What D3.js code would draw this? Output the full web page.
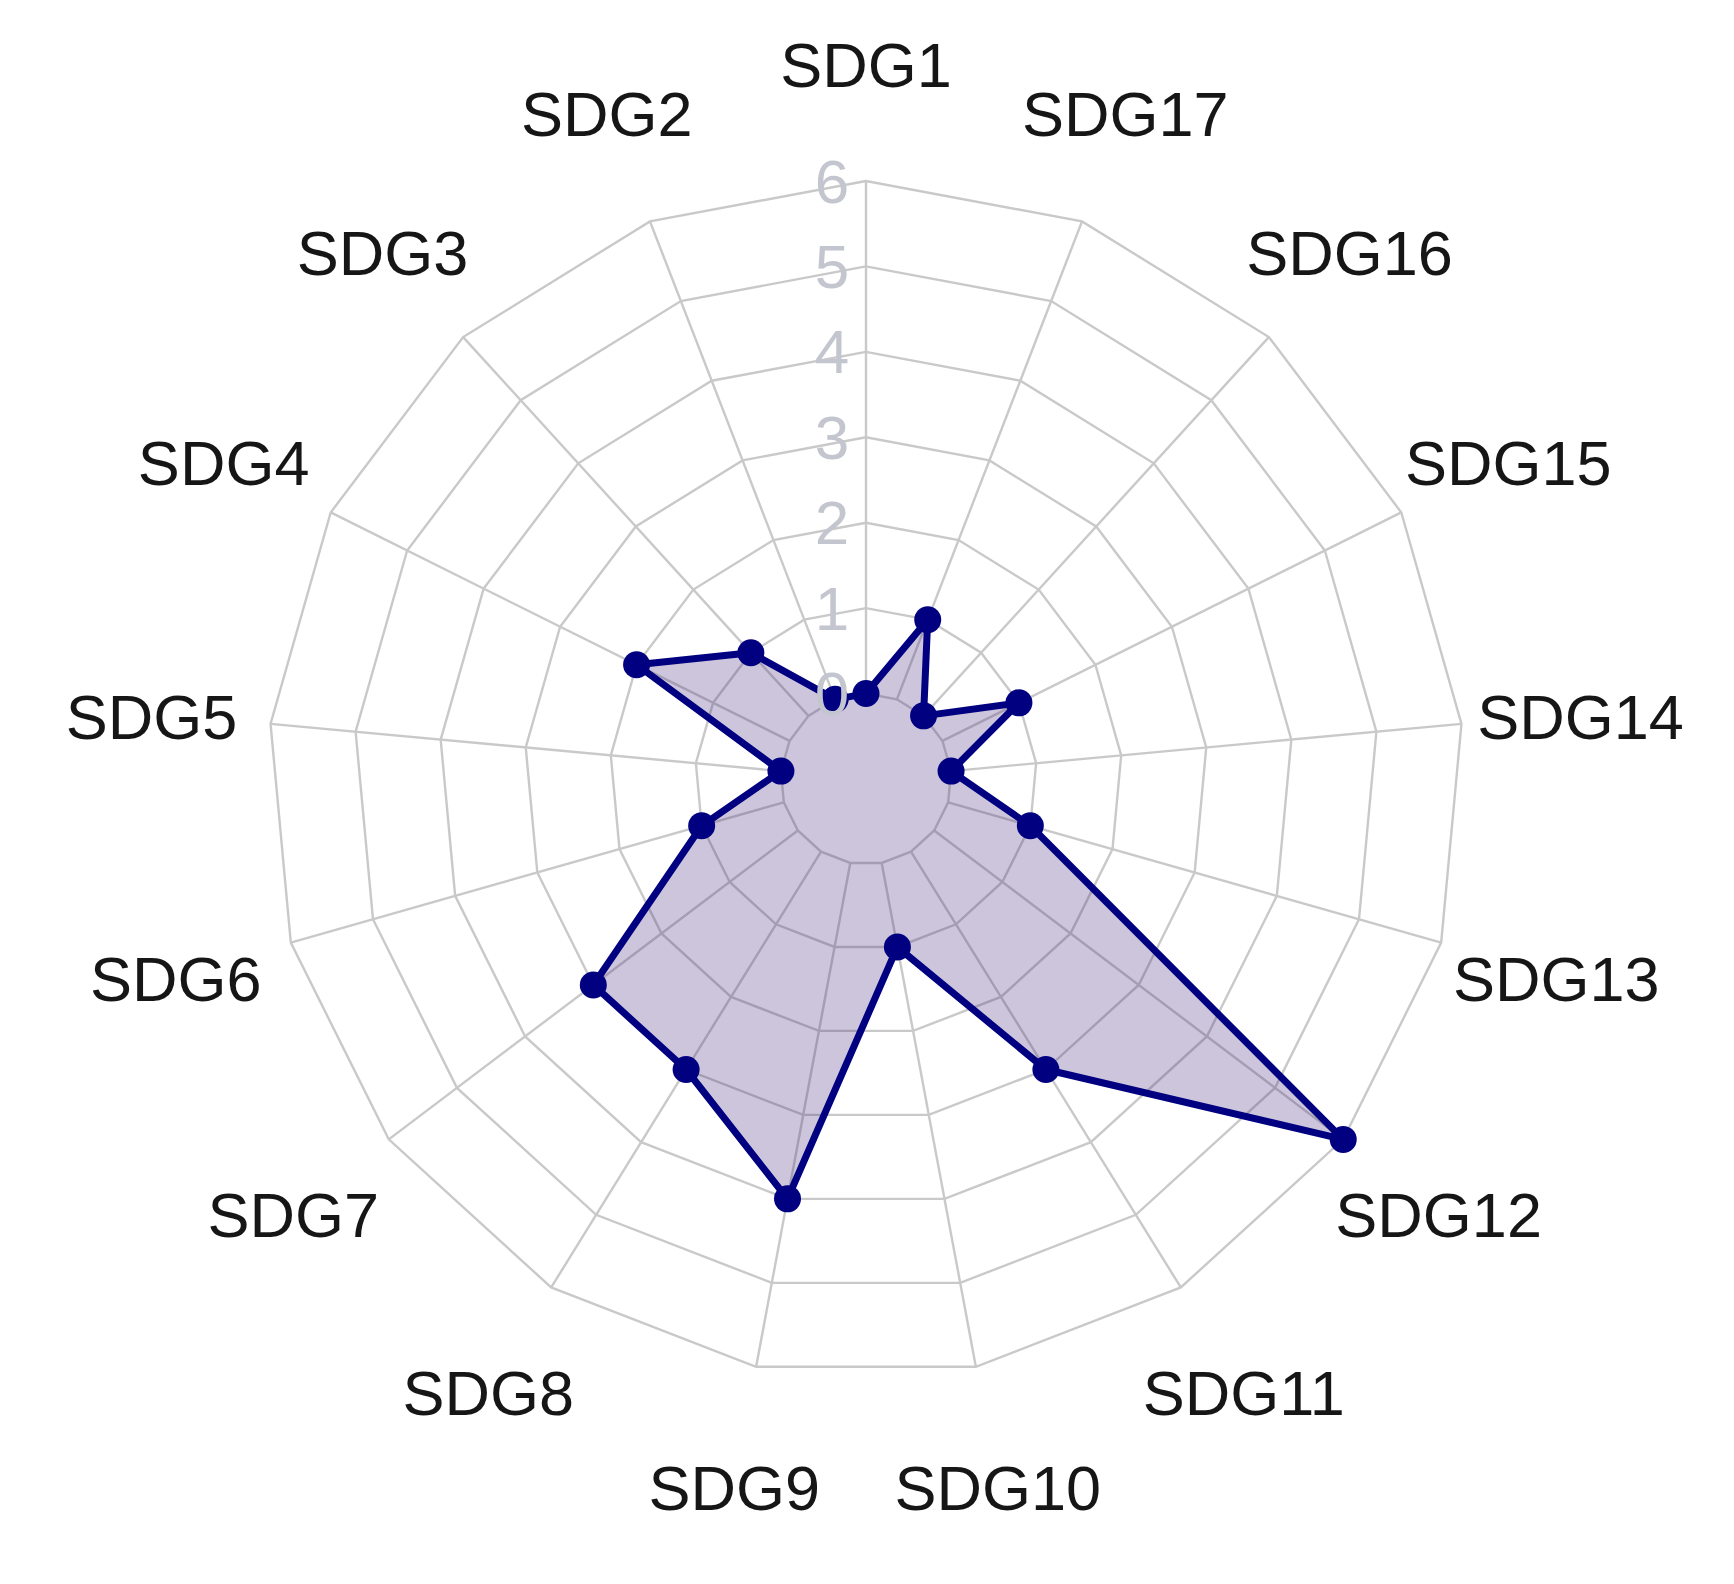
<!DOCTYPE html>
<html>
<head>
<meta charset="utf-8">
<script src="https://cdn.jsdelivr.net/npm/d3@7"></script>
<style>
  html, body { margin: 0; padding: 0; background: #ffffff; }
  svg { display: block; }
</style>
</head>
<body>
<script>
// ---- data ----
const categories = ["SDG1","SDG2","SDG3","SDG4","SDG5","SDG6","SDG7","SDG8","SDG9",
                    "SDG10","SDG11","SDG12","SDG13","SDG14","SDG15","SDG16","SDG17"];
const values = [0, 0, 1, 2, 0, 1, 3, 3, 4, 1, 3, 6, 1, 0, 1, 0, 1];
const tickValues = [0, 1, 2, 3, 4, 5, 6];
const tickLabels = ["0", "1", "2", "3", "4", "5", "6"];

// ---- layout ----
const W = 1734, H = 1584;
const cx = 866, cy = 779, R = 598;
const seg = tickValues.length - 1;

const svg = d3.select("body").append("svg")
  .attr("width", W).attr("height", H);

const g = svg.append("g").attr("transform", `translate(${cx},${cy})`);

// radial scale: value 0 sits on the inner ring (gap of one segment)
const r = d3.scaleLinear()
  .domain([d3.min(tickValues), d3.max(tickValues)])
  .range([R / (seg + 1), R]);

// angle: first axis at top, going counter-clockwise
const ang = d3.scaleLinear()
  .domain([0, categories.length])
  .range([0, -2 * Math.PI]);

const px = (i, rad) => rad * Math.sin(ang(i));
const py = (i, rad) => -rad * Math.cos(ang(i));

const gridColor = "#c9c9c9";

// rings
tickValues.forEach(v => {
  const pts = categories.map((c, i) => [px(i, r(v)), py(i, r(v))]);
  g.append("path")
    .attr("d", d3.line().curve(d3.curveLinearClosed)(pts))
    .attr("fill", "none")
    .attr("stroke", gridColor)
    .attr("stroke-width", 2.4);
});

// spokes
categories.forEach((c, i) => {
  g.append("line")
    .attr("x1", px(i, r(0))).attr("y1", py(i, r(0)))
    .attr("x2", px(i, R)).attr("y2", py(i, R))
    .attr("stroke", gridColor)
    .attr("stroke-width", 2.4);
});

// data polygon
const dataPts = values.map((v, i) => [px(i, r(v)), py(i, r(v))]);
g.append("path")
  .attr("d", d3.line().curve(d3.curveLinearClosed)(dataPts))
  .attr("fill", "rgb(60,30,120)")
  .attr("fill-opacity", 0.26)
  .attr("stroke", "#000080")
  .attr("stroke-width", 7)
  .attr("stroke-linejoin", "round");

g.selectAll("circle.pt")
  .data(values)
  .enter().append("circle")
  .attr("class", "pt")
  .attr("cx", (v, i) => px(i, r(v)))
  .attr("cy", (v, i) => py(i, r(v)))
  .attr("r", 13.5)
  .attr("fill", "#000080");

// axis tick labels
g.selectAll("text.tick")
  .data(tickValues)
  .enter().append("text")
  .attr("class", "tick")
  .attr("x", -34)
  .attr("y", v => -r(v))
  .attr("text-anchor", "middle")
  .attr("dominant-baseline", "central")
  .attr("font-family", "'Liberation Sans', Arial, sans-serif")
  .attr("font-size", 62)
  .attr("fill", "#c4c6cf")
  .text((v, i) => tickLabels[i]);

// category labels
g.selectAll("text.cat")
  .data(categories)
  .enter().append("text")
  .attr("class", "cat")
  .attr("x", (c, i) => px(i, R * 1.2))
  .attr("y", (c, i) => py(i, R * 1.2) + 4)
  .attr("text-anchor", "middle")
  .attr("dominant-baseline", "central")
  .attr("font-family", "'Liberation Sans', Arial, sans-serif")
  .attr("font-size", 63)
  .attr("fill", "#161616")
  .text(c => c);
</script>
</body>
</html>
